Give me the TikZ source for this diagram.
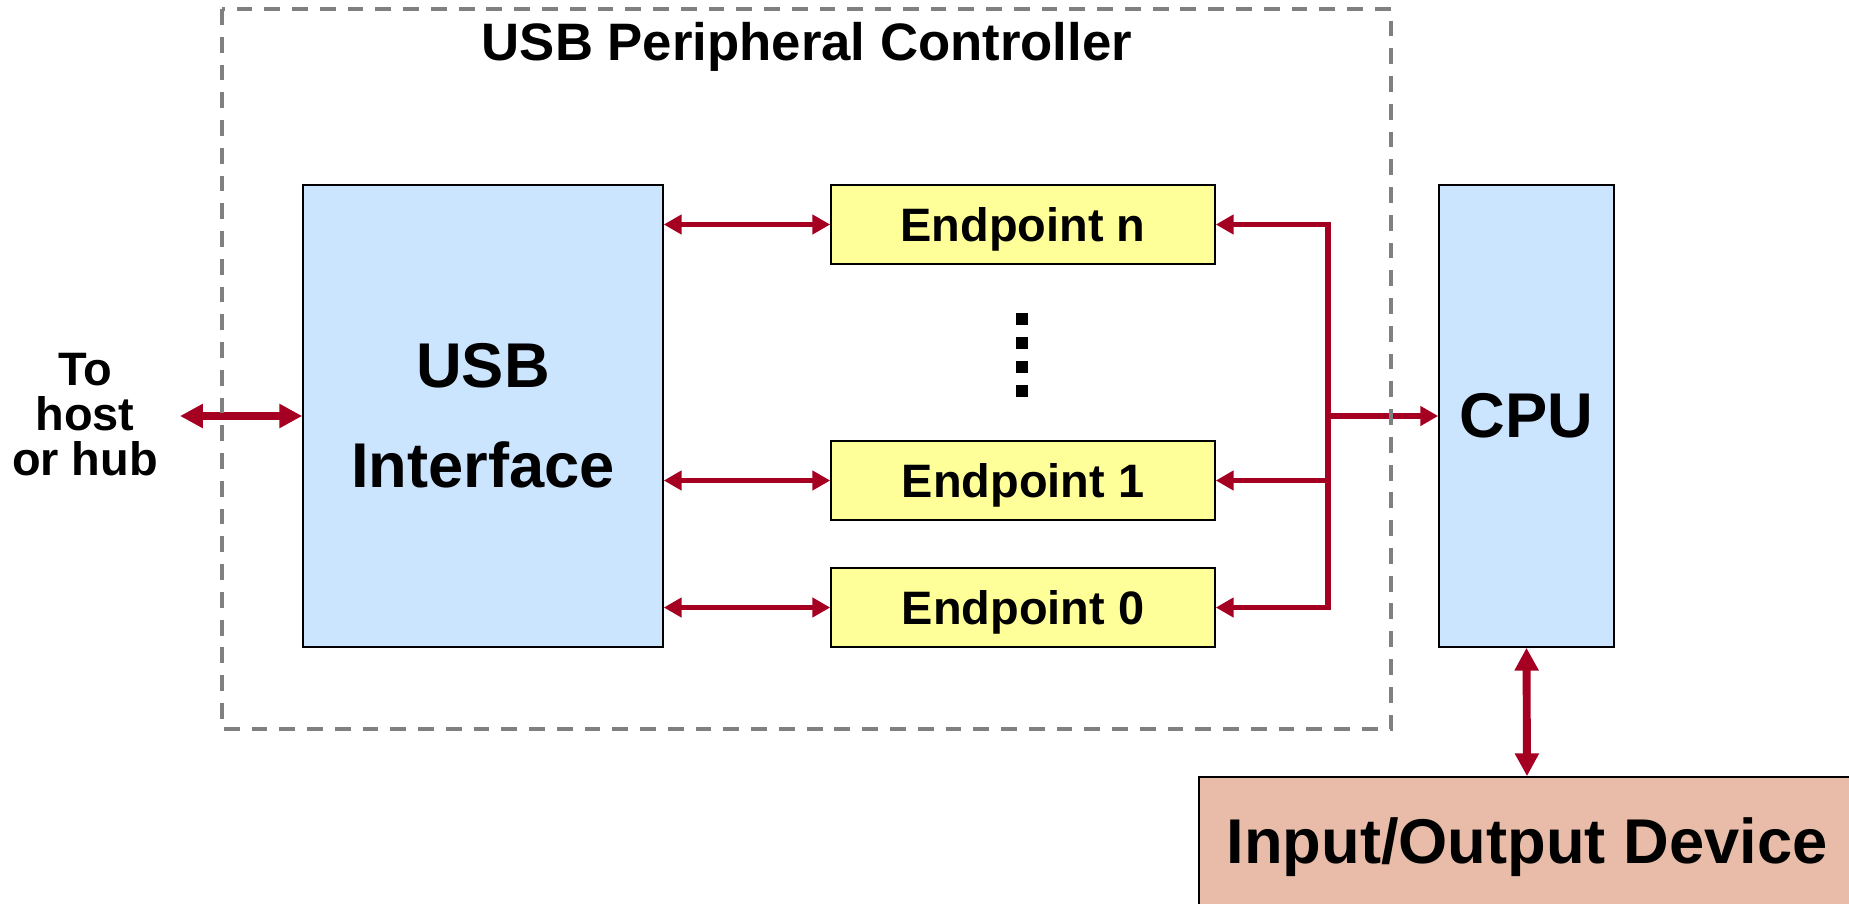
\documentclass[tikz,border=0pt]{standalone}
\usepackage{fontspec}
\setmainfont{Liberation Sans}
\usetikzlibrary{arrows.meta}
\definecolor{linkred}{RGB}{165,0,33}
\definecolor{ifblue}{RGB}{204,229,255}
\definecolor{epyellow}{RGB}{255,255,153}
\definecolor{devpink}{RGB}{232,188,168}
\definecolor{framegray}{RGB}{128,128,128}
\begin{document}
\begin{tikzpicture}[x=0.02cm,y=-0.02cm,
  box/.style={draw=black,line width=0.9pt,inner sep=0pt,font=\bfseries},
  bigtxt/.style={font=\bfseries\fontsize{36}{57}\selectfont,align=center},
  midtxt/.style={font=\bfseries\fontsize{26.7}{25.6}\selectfont,align=center},
  endpt/.style={box,fill=epyellow,minimum width=7.68cm,minimum height=1.58cm,midtxt,text depth=0pt},
  link/.style={draw=linkred,line width=3.3pt,>={Triangle[length=10.2pt,width=10.8pt]}},
  fat/.style={draw=linkred,line width=4.5pt,>={Triangle[length=13pt,width=13pt]}},
  dot/.style={fill=black,inner sep=0pt,minimum size=0.24cm}]
\useasboundingbox (0,0) rectangle (1849,903);
% blocks
\node[box,fill=ifblue,minimum width=7.2cm,minimum height=9.24cm,bigtxt] (usbif) at (483,416) {USB\\Interface};
\node[endpt] (epn) at (1023,224.5) {Endpoint n};
\node[endpt] (ep1) at (1023,480.5) {Endpoint 1};
\node[endpt] (ep0) at (1023,607.5) {Endpoint 0};
\node[box,fill=ifblue,minimum width=3.5cm,minimum height=9.24cm,bigtxt] (cpu) at (1526.5,416) {CPU};
\node[box,fill=devpink,minimum width=13.12cm,minimum height=2.8cm,bigtxt] (io) at (1527,847) {Input/Output Device};
\node[midtxt] (host) at (85,415) {To\\host\\or hub};
\node[font=\bfseries\fontsize{30}{36}\selectfont] (title) at (807,47) {USB Peripheral Controller};
\foreach \y in {319,343,367,391}
  \node[dot] at (1022,\y) {};
% connections
\coordinate (hostend) at (180,416);
\coordinate (bustop) at (1328,224.5);
\coordinate (busbot) at (1328,607.5);
\draw[fat,<->] (hostend) -- (usbif.west);
\draw[fat,<->] (cpu.south) -- (io.north);
\draw[link,<->] (usbif.east |- epn.west) -- (epn.west);
\draw[link,<->] (usbif.east |- ep1.west) -- (ep1.west);
\draw[link,<->] (usbif.east |- ep0.west) -- (ep0.west);
\draw[link,<->] (epn.east) -- (bustop) -- (busbot) -- (ep0.east);
\draw[link,->] (bustop |- ep1.east) -- (ep1.east);
\draw[link,->] (bustop |- cpu.west) -- (cpu.west);
% controller frame
\draw[framegray,line width=2.6pt,dash pattern=on 9pt off 6.8pt] (222,9) rectangle (1391,729);
\end{tikzpicture}
\end{document}
